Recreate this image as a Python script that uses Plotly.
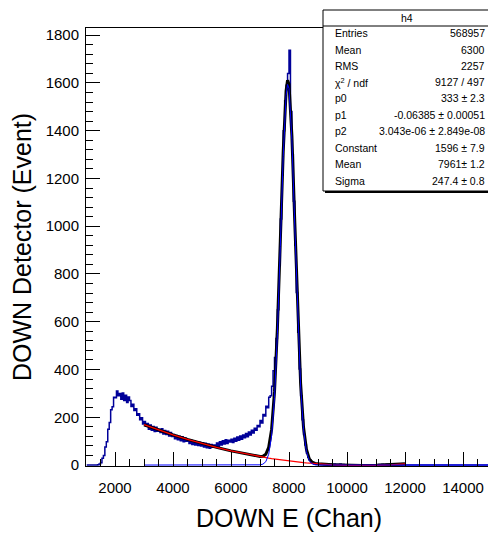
import plotly.graph_objects as go

# histogram h4: 50-chan bins from 1000 to 15000, counts
BIN_START = 1000
BIN_WIDTH = 50
counts = [
    0, 0, 0, 0, 0, 0, 0, 0, 1, 4,
    10, 28, 40, 76, 98, 150, 178, 232, 244, 284,
    282, 310, 290, 300, 276, 302, 270, 292, 262, 285,
    270, 245, 255, 228, 236, 208, 215, 190, 198, 172,
    182, 162, 174, 150, 168, 146, 161, 140, 158, 142,
    150, 136, 152, 130, 145, 128, 141, 122, 136, 120,
    128, 110, 124, 106, 121, 102, 118, 98, 113, 100,
    106, 90, 104, 86, 101, 84, 98, 82, 95, 80,
    93, 76, 91, 72, 88, 70, 86, 74, 84, 78,
    92, 78, 98, 84, 102, 88, 106, 90, 104, 96,
    108, 94, 112, 100, 117, 104, 122, 108, 126, 114,
    132, 118, 138, 126, 146, 134, 154, 146, 166, 160,
    186, 176, 212, 205, 246, 240, 284, 290, 330, 395,
    450, 530, 650, 835, 1030, 1215, 1400, 1525, 1590, 1640,
    1737, 1480, 1300, 1105, 920, 722, 556, 402, 290, 190,
    128, 84, 50, 33, 21, 13, 9, 6, 5, 4,
    3, 4, 2, 3, 1, 2, 1, 2, 1, 3,
    2, 4, 1, 3, 2, 4, 1, 2, 0, 1,
    0, 1, 0, 0, 1, 0, 0, 0, 1, 0,
    0, 0, 1, 0, 0, 0, 0, 1, 0, 0,
    1, 0, 2, 1, 3, 1, 2, 3, 1, 2,
    2, 1, 1, 0, 1, 0, 0, 1, 0, 0,
    0, 0, 0, 0, 0, 0, 0, 0, 0, 0,
    0, 0, 0, 0, 0, 0, 0, 0, 0, 0,
    0, 0, 0, 0, 0, 0, 0, 0, 0, 0,
    0, 0, 0, 0, 0, 0, 0, 0, 0, 0,
    0, 0, 0, 0, 0, 0, 0, 0, 0, 0,
    0, 0, 0, 0, 0, 0, 0, 0, 0, 0,
]
bin_centres = [BIN_START + BIN_WIDTH * (i + 0.5) for i in range(len(counts))]

# fit curves (pol2 + gaus)
fit_x = [3000, 3500, 4000, 4500, 5000, 5500, 6000, 6500, 7000, 7100, 7200, 7300,
         7400, 7500, 7600, 7700, 7800, 7900, 7950, 8000, 8100, 8200, 8300, 8400,
         8500, 8600, 8700, 8800, 8900, 9000, 9500, 10000, 10500, 11000, 11500, 12000]
fit_total = [168.8, 146.8, 126.3, 107.3, 89.8, 73.9, 59.4, 46.6, 36.1, 36.8, 45, 74.1,
             149.1, 307.3, 573.5, 936.8, 1311.1, 1566.5, 1611.8, 1594, 1378.4, 1015, 636.6, 342.4,
             159.2, 66, 25.8, 11.7, 6.7, 5, 1, -1.2, -1.9, -1.2, 1.1, 5]
fit_bkg = [168.8, 146.8, 126.3, 107.3, 89.8, 73.9, 59.4, 46.6, 35.2, 33.1, 31.0, 29.1,
           27.1, 25.3, 23.5, 21.8, 20.1, 18.5, 17.8, 17.0, 15.4, 14.0, 12.6, 11.4,
           10.2, 9.0, 7.8, 6.7, 5.7, 4.8, 1.0, -1.2, -1.9, -1.2, 1.1, 5.0]

gaus_x = [3000, 6500, 7000, 7100, 7200, 7300, 7400, 7500, 7600, 7700, 7800, 7900,
          7950, 8000, 8100, 8200, 8300, 8400, 8500, 8600, 8700, 8800, 8900, 9000, 15000]
gaus_y = [0, 0, 0.9, 3.7, 14, 45, 122, 282, 550, 915, 1291, 1548,
          1594, 1577, 1363, 1001, 624, 331, 149, 57, 18, 5, 1, 0.2, 0]

stats_title = "h4"
stats_rows = [
    ("Entries", "568957"),
    ("Mean", "6300"),
    ("RMS", "2257"),
    ("χ<sup>2</sup> / ndf", "9127 / 497"),
    ("p0", "333 ± 2.3"),
    ("p1", "-0.06385 ± 0.00051"),
    ("p2", "3.043e-06 ± 2.849e-08"),
    ("Constant", "1596 ± 7.9"),
    ("Mean", "7961± 1.2"),
    ("Sigma", "247.4 ± 0.8"),
]

FONT = "Liberation Sans, Arial, Helvetica, sans-serif"
STAT_SIZE = 10.5

fig = go.Figure()
fig.add_trace(go.Scatter(x=bin_centres, y=counts, mode="lines", line_shape="hvh",
                         line=dict(color="#000099", width=1.5), name="h4"))
fig.add_trace(go.Scatter(x=fit_x, y=fit_total, mode="lines",
                         line=dict(color="black", width=3), name="total"))
fig.add_trace(go.Scatter(x=fit_x, y=fit_bkg, mode="lines",
                         line=dict(color="#ff0000", width=1.3), name="pol2"))
fig.add_trace(go.Scatter(x=gaus_x, y=gaus_y, mode="lines",
                         line=dict(color="#0000ff", width=1), name="gaus"))

# the page body adds an 8px margin, so the figure is drawn 8px smaller
PAGE_W, PAGE_H, BODY = 496, 538, 8
W, H = PAGE_W - BODY, PAGE_H - BODY
# plot area in page pixels: x 86..492, y 28..466
L, R, T, B = 86, 492, 28, 466


def px(x):
    return (x - L) / (R - L)


def py(y):
    return (B - y) / (B - T)


# stats box (page pixels)
bx0, bx1, by0, by1 = 323, 490, 10, 191
shapes = [
    dict(type="rect", xref="paper", yref="paper", x0=px(bx0 + 2), x1=px(bx1 + 2),
         y0=py(by1 + 2), y1=py(by0 + 2), fillcolor="black", line=dict(width=0), layer="above"),
    dict(type="rect", xref="paper", yref="paper", x0=px(bx0), x1=px(bx1),
         y0=py(by1), y1=py(by0), fillcolor="white", line=dict(color="black", width=1), layer="above"),
    dict(type="line", xref="paper", yref="paper", x0=px(bx0), x1=px(bx1),
         y0=py(26), y1=py(26), line=dict(color="black", width=1), layer="above"),
]
annotations = [dict(xref="paper", yref="paper", x=px((bx0 + bx1) / 2), y=py(18), text=stats_title,
                    showarrow=False, xanchor="center", yanchor="middle",
                    font=dict(family=FONT, size=STAT_SIZE, color="black"))]
row_y = [33, 49.5, 66, 82, 98.5, 115, 131, 148, 164, 180.5]
for (label, value), yy in zip(stats_rows, row_y):
    annotations.append(dict(xref="paper", yref="paper", x=px(333), y=py(yy), text=label,
                            showarrow=False, xanchor="left", yanchor="middle",
                            font=dict(family=FONT, size=STAT_SIZE, color="black")))
    annotations.append(dict(xref="paper", yref="paper", x=px(487), y=py(yy), text=value,
                            showarrow=False, xanchor="right", yanchor="middle",
                            font=dict(family=FONT, size=STAT_SIZE, color="black")))

axis_common = dict(
    showline=True, linecolor="black", linewidth=1, mirror=True,
    showgrid=False, zeroline=False, automargin=False,
    ticks="inside", tickcolor="black", ticklen=14, tickwidth=1,
    tickformat="d",
    tickfont=dict(family=FONT, size=15, color="black"),
)

fig.update_layout(
    width=W, height=H,
    margin=dict(l=L - BODY, r=PAGE_W - R, t=T - BODY, b=PAGE_H - B),
    paper_bgcolor="white", plot_bgcolor="white",
    showlegend=False,
    font=dict(family=FONT, color="black"),
    shapes=shapes, annotations=annotations,
    xaxis=dict(
        range=[1000, 15000], tick0=0, dtick=2000,
        minor=dict(dtick=500, ticks="inside", ticklen=7, tickcolor="black", showgrid=False),
        ticklabelstandoff=8,
        title=dict(text="DOWN E (Chan)", font=dict(family=FONT, size=25, color="black"), standoff=14),
        **axis_common,
    ),
    yaxis=dict(
        range=[-4, 1830], tick0=0, dtick=200,
        minor=dict(dtick=40, ticks="inside", ticklen=7, tickcolor="black", showgrid=False),
        ticklabelstandoff=3,
        title=dict(text="DOWN Detector (Event)", font=dict(family=FONT, size=25, color="black"), standoff=8),
        **axis_common,
    ),
)

fig.write_html("out.html")
